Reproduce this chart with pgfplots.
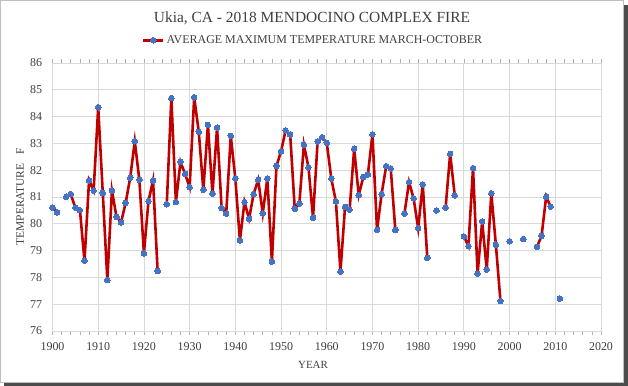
\documentclass[border=0pt]{standalone}
\usepackage{pgfplots}
\pgfplotsset{compat=1.18}
\usepackage{fontspec}
\setmainfont{Liberation Serif}
\definecolor{txt}{HTML}{404040}
\definecolor{grd}{HTML}{D9D9D9}
\definecolor{ln}{HTML}{C00000}
\definecolor{mk}{HTML}{4472C4}
\pgfplotstableread{
year temp
1900 80.61
1901 80.43
1902 nan
1903 81.01
1904 81.11
1905 80.60
1906 80.51
1907 78.62
1908 81.62
1909 81.24
1910 84.35
1911 81.15
1912 77.90
1913 81.24
1914 80.26
1915 80.05
1916 80.78
1917 81.72
1918 83.08
1919 81.64
1920 78.90
1921 80.85
1922 81.62
1923 78.24
1924 nan
1925 80.73
1926 84.69
1927 80.81
1928 82.31
1929 81.86
1930 81.37
1931 84.72
1932 83.43
1933 81.27
1934 83.69
1935 81.12
1936 83.59
1937 80.59
1938 80.38
1939 83.28
1940 81.69
1941 79.38
1942 80.81
1943 80.19
1944 81.11
1945 81.64
1946 80.39
1947 81.69
1948 78.59
1949 82.16
1950 82.70
1951 83.49
1952 83.33
1953 80.56
1954 80.75
1955 82.95
1956 82.11
1957 80.23
1958 83.07
1959 83.23
1960 83.02
1961 81.69
1962 80.83
1963 78.22
1964 80.63
1965 80.53
1966 82.80
1967 81.07
1968 81.75
1969 81.84
1970 83.34
1971 79.77
1972 81.11
1973 82.15
1974 82.07
1975 79.77
1976 nan
1977 80.38
1978 81.56
1979 80.95
1980 79.84
1981 81.47
1982 78.73
1983 nan
1984 80.50
1985 nan
1986 80.60
1987 82.61
1988 81.06
1989 nan
1990 79.53
1991 79.17
1992 82.08
1993 78.14
1994 80.09
1995 78.29
1996 81.14
1997 79.22
1998 77.12
1999 nan
2000 79.35
2001 nan
2003 79.43
2004 nan
2006 79.14
2007 79.55
2008 81.01
2009 80.64
2010 nan
2011 77.21
}\temps
\begin{document}
\begin{tikzpicture}
\path (0bp,0bp) rectangle (628bp,386bp);
\fill[black!70] (4bp,0.3bp) rectangle (627.5bp,3.8bp);
\fill[black!70] (623.5bp,0.3bp) rectangle (627.5bp,381bp);
\fill[white] (0.5bp,3.8bp) rectangle (623.5bp,385.5bp);
\draw[black!25, line width=0.8bp] (0.5bp,3.8bp) rectangle (623.5bp,385.5bp);
\node[txt, font=\fontsize{15.5}{17}\selectfont] at (312bp,368bp) {Ukia, CA - 2018 MENDOCINO COMPLEX FIRE};
\begin{axis}[
  at={(52.5bp,55bp)}, anchor=south west, scale only axis,
  width=548.5bp, height=268bp,
  xmin=1900, xmax=2020, ymin=76, ymax=86,
  xtick distance=10, ytick distance=1,
  minor x tick num=4,
  grid=major, major grid style={grd, line width=0.8bp},
  axis line style={grd, line width=0.8bp},
  x axis line style={black!30},
  tick align=outside,
  xtick style={black!30, line width=0.6bp},
  minor x tick style={black!30, line width=0.6bp},
  major tick length=4bp, minor tick length=4bp,
  ytick style={draw=none},
  /pgf/number format/assume math mode=true,
  x tick label style={/pgf/number format/1000 sep={}},
  ticklabel style={txt, font=\fontsize{12}{13}\selectfont},
  x tick label style={yshift=-4bp},
  y tick label style={xshift=-3bp},
  xlabel={YEAR}, ylabel={TEMPERATURE~~~F},
  xlabel style={txt, font=\fontsize{11}{12}\selectfont, at={(axis description cs:0.475,-0.127)}, anchor=center},
  ylabel style={txt, font=\fontsize{11.5}{12}\selectfont, at={(axis description cs:-0.059,0.5)}, anchor=center},
  unbounded coords=jump,
  legend style={at={(0.475,1.085)}, anchor=center, draw=none, fill=none, font=\fontsize{12}{13}\selectfont, text=txt, inner sep=0pt},
  legend image code/.code={\draw[#1, mark repeat=2, mark phase=2] plot coordinates {(0bp,0bp) (10bp,0bp) (20bp,0bp)};},
  legend cell align=left,
  clip=true,
]
\addplot[ln, line width=2.6bp, mark=*, mark size=2.8bp, mark options={mk, fill=mk, draw=mk, line width=0pt}] table[x=year, y=temp] {\temps};
\addlegendentry{AVERAGE MAXIMUM TEMPERATURE MARCH-OCTOBER}
\end{axis}
\end{tikzpicture}
\end{document}
